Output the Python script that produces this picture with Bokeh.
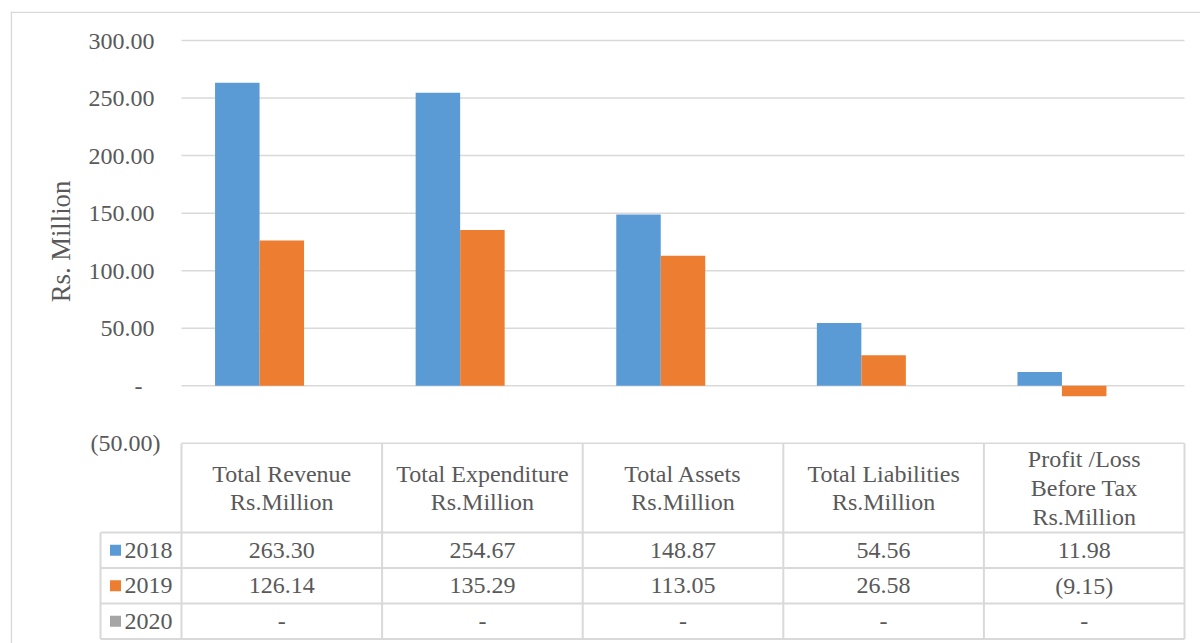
import math
import numpy as np
from bokeh.plotting import figure
from bokeh.models import Range1d, FixedTicker
from bokeh.core.properties import value
from bokeh.embed import file_html
from bokeh.resources import INLINE

# ---------------- data ----------------
categories = [
    "Total Revenue\nRs.Million",
    "Total Expenditure\nRs.Million",
    "Total Assets\nRs.Million",
    "Total Liabilities\nRs.Million",
    "Profit /Loss\nBefore Tax\nRs.Million",
]
years = ["2018", "2019", "2020"]
values_2018 = [263.30, 254.67, 148.87, 54.56, 11.98]
values_2019 = [126.14, 135.29, 113.05, 26.58, -9.15]
values_2020 = [0.0, 0.0, 0.0, 0.0, 0.0]
series = [values_2018, values_2019, values_2020]
y_ticks = [-50, 0, 50, 100, 150, 200, 250, 300]
y_tick_labels = ["(50.00)", "-\u2007\u2008", "50.00\u2008", "100.00\u2008", "150.00\u2008",
                 "200.00\u2008", "250.00\u2008", "300.00\u2008"]
y_title = "Rs. Million"
colors = ["#5B9BD5", "#ED7D31", "#A5A5A5"]

# ---------------- layout (pixels) ----------------
W, H = 1200, 643
FRAME_L, FRAME_T = 10, 11
PLOT_L = 181.0      # left edge of category area
CAT_W = 200.6       # pixels per category
ZERO_PX = 385.3     # pixel row of value 0
PX_PER_VAL = 1.151  # pixels per value unit
FONT = "Liberation Serif"
TXT = "#595959"
LINE = "#D9D9D9"


def xd(px):
    return (px - PLOT_L) / CAT_W


def yd(py):
    return (ZERO_PX - py) / PX_PER_VAL


def fmt(v):
    if v == 0:
        return "-"
    if v < 0:
        return "(%.2f)" % abs(v)
    return "%.2f" % v


p = figure(width=W, height=H, output_backend="svg", toolbar_location=None,
           x_range=Range1d(xd(FRAME_L), xd(W)), y_range=Range1d(yd(H), yd(FRAME_T)),
           x_axis_location=None,
           min_border_left=FRAME_L, min_border_top=FRAME_T,
           min_border_right=0, min_border_bottom=0)
p.background_fill_color = "white"
p.border_fill_color = "white"
p.outline_line_color = None
p.xgrid.visible = False
p.ygrid.visible = False

# chart border (left and top edges visible in the window)
p.segment(x0=[xd(FRAME_L + 0.8), xd(FRAME_L)], x1=[xd(FRAME_L + 0.8), xd(W)],
          y0=[yd(FRAME_T), yd(FRAME_T + 0.8)], y1=[yd(H), yd(FRAME_T + 0.8)],
          line_color=LINE, line_width=1.6)

# y axis (labels pulled to the right of the frame edge)
ax = p.yaxis[0]
ax.ticker = FixedTicker(ticks=y_ticks)
ax.major_label_overrides = {t: l for t, l in zip(y_ticks, y_tick_labels)}
ax.axis_line_color = None
ax.major_tick_line_color = None
ax.minor_tick_line_color = None
ax.major_tick_out = 0
ax.major_tick_in = 0
ax.major_label_standoff = -150
ax.major_label_text_font = FONT
ax.major_label_text_font_size = "24px"
ax.major_label_text_color = TXT

n = len(categories)
centers = np.arange(n) + 0.5
bar_w = 44.5 / CAT_W

# grid lines over the category area
p.segment(x0=[0] * len(y_ticks), x1=[n] * len(y_ticks), y0=y_ticks, y1=y_ticks,
          line_color=LINE, line_width=1.5)

# bars
offsets = [-bar_w, 0.0, bar_w]
for vals, off, c in zip(series, offsets, colors):
    p.vbar(x=centers + off, top=vals, bottom=0, width=bar_w, fill_color=c, line_color=None)

# y axis title
p.text(x=[xd(60)], y=[yd(241)], text=[y_title], angle=math.pi / 2,
       text_align="center", text_baseline="middle", text_font=value(FONT),
       text_font_size="26.7px", text_color=TXT)

# ---------------- data table ----------------
TABLE_TOP = 443.0
ROW_LINES = [532.0, 567.5, 603.0, 638.5]
HDR_L = 100.0

# horizontal lines of the table body
p.segment(x0=[xd(HDR_L)] * len(ROW_LINES), x1=[n] * len(ROW_LINES),
          y0=[yd(r) for r in ROW_LINES], y1=[yd(r) for r in ROW_LINES],
          line_color=LINE, line_width=2)
# vertical lines between categories
p.segment(x0=list(range(n + 1)), x1=list(range(n + 1)),
          y0=[yd(TABLE_TOP)] * (n + 1), y1=[yd(ROW_LINES[-1])] * (n + 1),
          line_color=LINE, line_width=2)
# left edge of the row header column
p.segment(x0=[xd(HDR_L)], x1=[xd(HDR_L)], y0=[yd(ROW_LINES[0])], y1=[yd(ROW_LINES[-1])],
          line_color=LINE, line_width=2)

# header texts
p.text(x=centers, y=[yd((TABLE_TOP + ROW_LINES[0]) / 2)] * n, text=categories,
       text_align="center", text_baseline="middle", text_font=value(FONT),
       text_font_size="24px", text_color=TXT, text_line_height=1.1)

# rows
edges = ROW_LINES
for i, (yr, vals, c) in enumerate(zip(years, series, colors)):
    yc = yd((edges[i] + edges[i + 1]) / 2)
    p.text(x=centers, y=[yc] * n, text=[fmt(v) for v in vals],
           text_align="center", text_baseline="middle", text_font=value(FONT),
           text_font_size="24px", text_color=TXT)
    p.scatter(x=[xd(115)], y=[yc], marker="square", size=11, fill_color=c, line_color=None)
    p.text(x=[xd(124)], y=[yc], text=[yr], text_align="left", text_baseline="middle",
           text_font=value(FONT), text_font_size="24px", text_color=TXT)

open("out.html", "w").write(file_html(p, INLINE))
